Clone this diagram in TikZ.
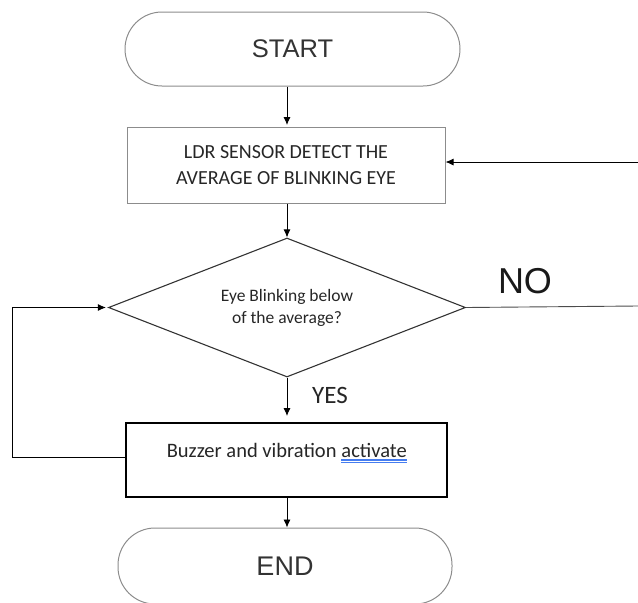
\documentclass[tikz,border=0pt]{standalone}
\usepackage{fontspec}
\setmainfont{Carlito}
\newfontfamily\arialfont{Liberation Sans}
\usetikzlibrary{shapes.geometric,arrows.meta}
\definecolor{ulblue}{RGB}{70,125,240}
\begin{document}
\begin{tikzpicture}[x=1pt,y=-1pt,
  term/.style={draw=black!45,line width=1pt,rounded corners=37pt,inner sep=0pt,text=black!80},
  proc/.style={draw=black!45,line width=1pt,inner sep=0pt,align=center,text=black!85},
  dec/.style={diamond,draw=black!80,line width=1.1pt,inner sep=0pt},
  flow/.style={draw=black,line width=0.9pt,-{Latex[length=8pt,width=7pt]}},
  plain/.style={draw=black!70,line width=0.9pt},
  ul/.style={draw=ulblue,line width=1.1pt}]
\useasboundingbox (0,0) rectangle (638,603);
\node[term,minimum width=335pt,minimum height=74pt,font=\arialfont\fontsize{25.5}{30}\selectfont] (start) at (292.5,49) {START};
\node[proc,minimum width=318pt,minimum height=76pt,font=\fontsize{20}{26}\selectfont] (ldr) at (286,165) {LDR SENSOR DETECT THE\\AVERAGE OF BLINKING EYE};
\node[dec,minimum width=357pt,minimum height=139pt] (check) at (287,307.5) {};
\node[align=center,inner sep=0pt,text=black!85,font=\fontsize{17.5}{22.5}\selectfont] (checktext) at (287,308) {Eye Blinking below\\of the average?};
\node[proc,draw=black,line width=1.8pt,minimum width=321pt,minimum height=74pt] (buzz) at (286.5,460) {};
\node[font=\fontsize{20.5}{24}\selectfont,text=black!85,inner sep=0pt,anchor=base east] (buzzA) at (407,457) {activate};
\node[font=\fontsize{20.5}{24}\selectfont,text=black!85,inner sep=0pt,anchor=base east] (buzztext) at ([xshift=-4.5pt]buzzA.base west) {Buzzer and vibration};
\draw[ul] ([yshift=-3pt]buzzA.base west) -- ([yshift=-3pt]buzzA.base east);
\draw[ul] ([yshift=-5.5pt]buzzA.base west) -- ([yshift=-5.5pt]buzzA.base east);
\node[term,minimum width=334pt,minimum height=76pt,font=\arialfont\fontsize{27}{32}\selectfont] (stop) at (285,566) {END};
\coordinate (r1) at (638,162);
\coordinate (r2) at (638,306);
\coordinate (l1) at (12,457);
\draw[flow] (start.south -| 287,0) -- (287,125);
\draw[flow] (r1) -- (ldr.east |- r1);
\draw[flow] (ldr.south -| 287,0) -- (check.north);
\draw[plain] (check.east) -- (r2);
\node[font=\arialfont\fontsize{36}{40}\selectfont,text=black!90,anchor=center] (no) at (525,281) {NO};
\draw[flow] (check.south) -- (287,416);
\node[font=\fontsize{25}{28}\selectfont,text=black!85] (yes) at (330,395) {YES};
\draw[flow] (buzz.west |- l1) -- (l1) |- ([xshift=-2pt]check.west);
\draw[flow] (buzz.south -| 287,0) -- (stop.north -| 287,0);
\end{tikzpicture}
\end{document}
